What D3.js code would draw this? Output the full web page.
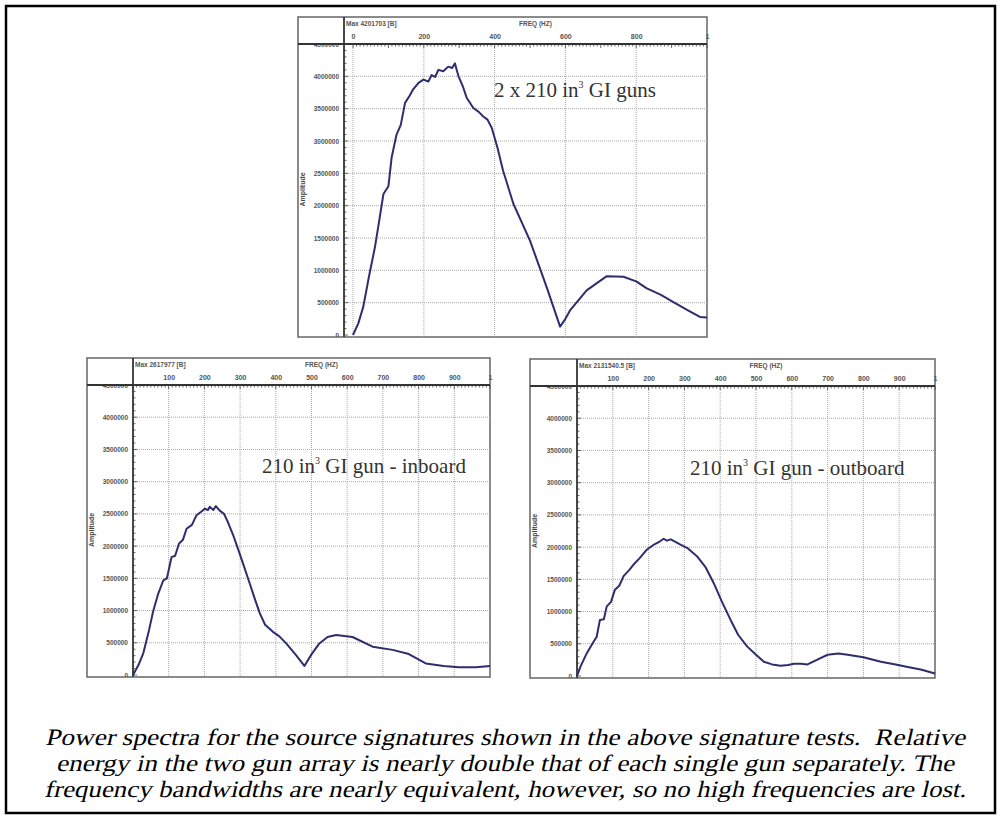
<!DOCTYPE html>
<html>
<head>
<meta charset="utf-8">
<script src="https://cdnjs.cloudflare.com/ajax/libs/d3/7.8.5/d3.min.js"></script>
<style>
  body { margin: 0; background: #fff; }
  svg { display: block; }
  .serif { font-family: 'Liberation Serif', 'Times New Roman', Times, serif; }
  .small { font-family: 'Liberation Sans', Arial, sans-serif; font-weight: bold; }
</style>
</head>
<body>
<svg id="page" width="1001" height="819"></svg>
<script>
// amplitude spectra (FREQ in Hz, amplitude)
const freqTop = [0, 15, 29, 45, 62, 75, 86, 100, 109, 123, 135, 147, 160, 170, 185, 199, 213, 222, 232, 241, 255, 269, 280, 288, 298, 310, 321, 340, 355, 368, 380, 392, 408, 424, 453, 500, 547, 585, 600, 613, 660, 717, 764, 800, 830, 870, 905, 950, 980, 1000];
const ampTop = [0, 180000, 435000, 900000, 1360000, 1800000, 2180000, 2300000, 2740000, 3100000, 3250000, 3590000, 3700000, 3800000, 3900000, 3950000, 3920000, 4020000, 3990000, 4100000, 4080000, 4150000, 4130000, 4200000, 4000000, 3850000, 3670000, 3510000, 3450000, 3380000, 3330000, 3200000, 2900000, 2540000, 2030000, 1460000, 740000, 130000, 250000, 380000, 690000, 910000, 900000, 830000, 720000, 620000, 510000, 370000, 280000, 270000];

const freqIn = [0, 15, 29, 45, 57, 70, 85, 95, 108, 118, 129, 140, 150, 165, 178, 190, 201, 210, 215, 225, 232, 243, 255, 266, 280, 299, 313, 327, 340, 355, 370, 392, 410, 429, 455, 480, 500, 522, 545, 569, 615, 671, 727, 770, 820, 870, 913, 960, 1000];
const ampIn = [0, 150000, 340000, 700000, 1000000, 1250000, 1470000, 1500000, 1830000, 1850000, 2040000, 2100000, 2270000, 2330000, 2480000, 2530000, 2580000, 2560000, 2610000, 2560000, 2620000, 2550000, 2500000, 2370000, 2180000, 1880000, 1650000, 1420000, 1200000, 960000, 780000, 670000, 600000, 490000, 320000, 140000, 320000, 490000, 590000, 620000, 590000, 440000, 390000, 330000, 180000, 140000, 120000, 120000, 140000];

const freqOut = [0, 10, 27, 45, 55, 64, 75, 83, 95, 106, 118, 130, 145, 158, 175, 195, 215, 232, 242, 251, 262, 275, 289, 310, 335, 360, 382, 405, 429, 450, 475, 500, 522, 545, 569, 590, 606, 625, 644, 670, 700, 730, 756, 800, 849, 890, 924, 960, 1000];
const ampOut = [0, 150000, 350000, 520000, 610000, 870000, 880000, 1080000, 1150000, 1340000, 1400000, 1550000, 1640000, 1730000, 1830000, 1960000, 2040000, 2090000, 2130000, 2100000, 2120000, 2080000, 2040000, 1980000, 1860000, 1680000, 1440000, 1150000, 870000, 640000, 460000, 330000, 220000, 180000, 160000, 170000, 190000, 190000, 180000, 250000, 330000, 350000, 330000, 290000, 220000, 180000, 140000, 100000, 40000];

const ampTicks = [0, 500000, 1000000, 1500000, 2000000, 2500000, 3000000, 3500000, 4000000, 4500000];
const freqTicksTop = [0, 200, 400, 600, 800, 1000];
const freqTicksBottom = [100, 200, 300, 400, 500, 600, 700, 800, 900, 1000];

const maxLabels = ['Max 4201703 [B]', 'Max 2617977 [B]', 'Max 2131540.5 [B]'];
const noteLabels = [['2 x 210 in', ' GI guns'], ['210 in', ' GI gun - inboard'], ['210 in', ' GI gun - outboard']];

const captionLines = [
  'Power spectra for the source signatures shown in the above signature tests.  Relative',
  'energy in the two gun array is nearly double that of each single gun separately. The',
  'frequency bandwidths are nearly equivalent, however, so no high frequencies are lost.'
];

const svg = d3.select('#page');

svg.append('rect')
  .attr('x', 6).attr('y', 6)
  .attr('width', 989).attr('height', 807)
  .attr('fill', 'none').attr('stroke', '#000').attr('stroke-width', 2.5);

function drawChart(id, box, freqs, amps, ticks, freqStart, maxLabel, note) {
  const { fx, fy, fw, fh, px, py, y0, noteX, noteY } = box;
  const right = fx + fw;

  const x = d3.scaleLinear().domain([0, 1000]).range([px + freqStart, right]);
  const y = d3.scaleLinear().domain([0, 4500000]).range([y0, py]);

  const g = svg.append('g');

  g.append('rect')
    .attr('x', fx).attr('y', fy).attr('width', fw).attr('height', fh)
    .attr('fill', '#fff').attr('stroke', '#666').attr('stroke-width', 1.5);

  svg.append('clipPath').attr('id', 'clip' + id)
    .append('rect').attr('x', fx).attr('y', py + 1).attr('width', fw).attr('height', fy + fh - py - 1);

  // grid
  g.append('g').selectAll('line').data(ampTicks.slice(1, -1))
    .join('line')
      .attr('x1', px).attr('x2', right)
      .attr('y1', d => y(d)).attr('y2', d => y(d))
      .attr('stroke', '#a8a8a8').attr('stroke-dasharray', '1,1');

  g.append('g').selectAll('line').data(ticks.filter(d => d < 1000))
    .join('line')
      .attr('x1', d => x(d)).attr('x2', d => x(d))
      .attr('y1', py).attr('y2', fy + fh)
      .attr('stroke', '#a8a8a8').attr('stroke-dasharray', '1,1');

  // curve
  const line = d3.line().x(d => x(d[0])).y(d => y(d[1]));
  g.append('path')
    .datum(d3.zip(freqs, amps))
    .attr('d', line)
    .attr('fill', 'none')
    .attr('stroke', '#2e2e6e')
    .attr('stroke-width', 2)
    .attr('stroke-linejoin', 'round');

  // top ruler axis
  const xAxis = d3.axisTop(x).tickValues(ticks).tickSize(0).tickPadding(5)
    .tickFormat(d => d === 1000 ? '1' : d);
  const xa = g.append('g').attr('transform', `translate(0,${py})`).call(xAxis);
  xa.select('.domain').remove();
  xa.selectAll('text')
    .attr('class', 'small').attr('font-size', 7).attr('fill', '#555');

  g.append('g').selectAll('line').data(d3.range(0, 1001, 10))
    .join('line')
      .attr('x1', d => x(d)).attr('x2', d => x(d))
      .attr('y1', py).attr('y2', d => py + (d % 100 === 0 ? 4 : 2.5))
      .attr('stroke', '#444').attr('stroke-width', 0.8);

  g.append('line')
    .attr('x1', fx).attr('x2', right).attr('y1', py).attr('y2', py)
    .attr('stroke', '#333').attr('stroke-width', 1.8);

  // left ruler axis, the 4500000 label is half hidden behind the header line
  const yAxis = d3.axisLeft(y).tickValues(ampTicks).tickSize(0).tickPadding(5).tickFormat(d3.format('d'));
  const ya = g.append('g').attr('clip-path', `url(#clip${id})`)
    .append('g').attr('transform', `translate(${px},0)`)
    .call(yAxis);
  ya.select('.domain').remove();
  ya.selectAll('text')
    .attr('class', 'small').attr('font-size', 6.5).attr('fill', '#555');

  g.append('g').selectAll('line').data(d3.range(0, 4500001, 100000))
    .join('line')
      .attr('x1', px).attr('x2', d => px + (d % 500000 === 0 ? 4 : 2.5))
      .attr('y1', d => y(d)).attr('y2', d => y(d))
      .attr('stroke', '#444').attr('stroke-width', 0.8);

  g.append('line')
    .attr('x1', px).attr('x2', px).attr('y1', fy).attr('y2', fy + fh)
    .attr('stroke', '#333').attr('stroke-width', 1.8);

  // header text
  g.append('text')
    .attr('class', 'small')
    .attr('x', px + 2).attr('y', fy + 9)
    .attr('font-size', 6.5).attr('fill', '#555')
    .text(maxLabel);
  g.append('text')
    .attr('class', 'small')
    .attr('x', (px + right) / 2 + 10).attr('y', fy + 9)
    .attr('text-anchor', 'middle')
    .attr('font-size', 6.5).attr('fill', '#555')
    .text('FREQ (HZ)');

  g.append('text')
    .attr('class', 'small')
    .attr('transform', `translate(${fx + 7},${(py + y0) / 2}) rotate(-90)`)
    .attr('text-anchor', 'middle')
    .attr('font-size', 7).attr('fill', '#444')
    .text('Amplitude');

  // annotation
  const t = g.append('text')
    .attr('class', 'serif')
    .attr('x', noteX).attr('y', noteY)
    .attr('font-size', 21).attr('fill', '#333');
  t.append('tspan').text(note[0]);
  t.append('tspan').attr('font-size', 10).attr('dy', -9).text('3');
  t.append('tspan').attr('dy', 9).text(note[1]);
}

drawChart('a', { fx: 298, fy: 17, fw: 409, fh: 320, px: 344, py: 44, y0: 335, noteX: 494, noteY: 97 },
  freqTop, ampTop, freqTicksTop, 9, maxLabels[0], noteLabels[0]);
drawChart('b', { fx: 87, fy: 358, fw: 403, fh: 319, px: 133, py: 385, y0: 675, noteX: 262, noteY: 473 },
  freqIn, ampIn, freqTicksBottom, 0, maxLabels[1], noteLabels[1]);
drawChart('c', { fx: 530, fy: 359, fw: 405, fh: 319, px: 577, py: 386, y0: 676, noteX: 690, noteY: 475 },
  freqOut, ampOut, freqTicksBottom, 0, maxLabels[2], noteLabels[2]);

// caption: slanted serif, each line stretched to the width it has in the picture
const captionWidths = [920, 898, 922];
svg.append('g').selectAll('text').data(captionLines)
  .join('text')
    .attr('class', 'serif')
    .attr('transform', (d, i) => `translate(505,${745 + i * 26}) skewX(-13)`)
    .attr('text-anchor', 'middle')
    .attr('font-size', 23.5)
    .attr('textLength', (d, i) => captionWidths[i])
    .attr('lengthAdjust', 'spacingAndGlyphs')
    .attr('fill', '#000')
    .style('white-space', 'pre')
    .text(d => d);
</script>
</body>
</html>
